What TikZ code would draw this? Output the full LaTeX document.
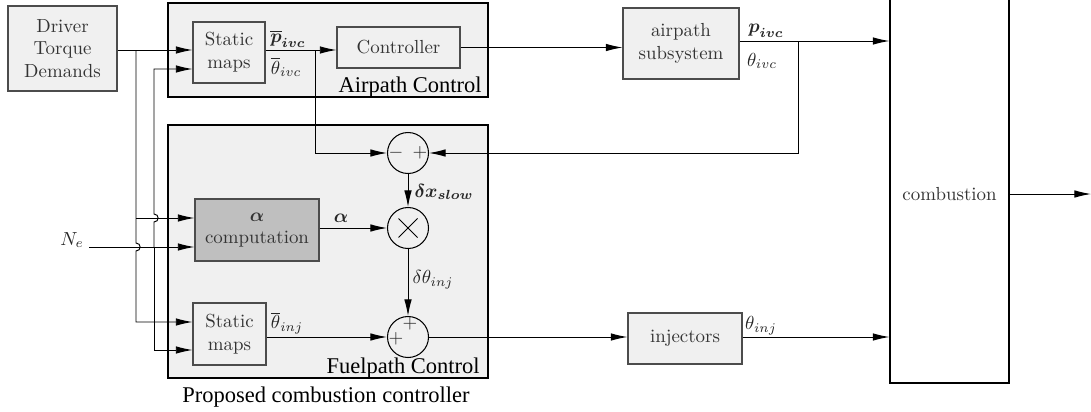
\documentclass[tikz,border=0pt]{standalone}
\usepackage{amsmath}
\usepackage{fontspec}
\newfontfamily\tnr{Liberation Serif}
\usetikzlibrary{arrows.meta,calc}
\begin{document}
\begin{tikzpicture}[x=0.529pt,y=-0.529pt,
  box/.style={draw=black!70, fill=gray!12, line width=0.6pt, align=center, text=black!80, inner sep=0pt},
  wh/.style 2 args={minimum width={#1*0.529pt}, minimum height={#2*0.529pt}},
  grp/.style={draw=black, fill=gray!12, line width=1.1pt, inner sep=0pt},
  conn/.style={line width=0.5pt},
  arr/.style={conn, -{Latex[length=8.8pt,width=4pt]}},
  opc/.style={circle, draw, line width=0.55pt, minimum size={41*0.529pt}, inner sep=0pt},
  lbl/.style={inner sep=0pt, text=black!85},
  grplbl/.style={inner sep=0pt, font=\tnr\fontsize{11.9}{14}\selectfont}
]
\path[use as bounding box, clip] (0,0) rectangle (1091,411);

% groups
\node[grp, wh={320}{94}] (airgrp) at (328,50) {};
\node[grp, wh={320}{253}] (fuelgrp) at (328,251.5) {};
\node[grplbl, anchor=base east] (aplbl) at (482,92) {Airpath Control};
\node[grplbl, anchor=base east] (fplbl) at (480,373) {Fuelpath Control};
\node[grplbl, anchor=base] (pcc) at (326,402) {Proposed combustion controller};

% boxes
\node[box, wh={109}{85}] (drv) at (62.5,48.5) {Driver\\Torque\\Demands};
\node[box, wh={72}{61}] (sm1) at (229,52.5) {Static\\maps};
\node[box, wh={123}{41}] (ctrl) at (398.5,47.5) {Controller};
\node[box, wh={116}{71}] (ap) at (681,43.5) {airpath\\subsystem};
\node[box, fill=gray!50, wh={124}{62}] (alpha) at (257,230) {$\boldsymbol{\alpha}$\\computation};
\node[box, wh={73}{62}] (sm2) at (229.5,334) {Static\\maps};
\node[box, wh={114}{51}] (inj) at (685,338.5) {injectors};
\node[draw=black, line width=0.6pt, wh={119}{430}, inner sep=0pt] (comb) at (949.5,168) {};
\node[lbl, text=black!80] (combtxt) at (949.5,194) {combustion};

% operators
\node[opc] (mp) at (408,153) {};
\node[opc] (mul) at (408,228) {};
\node[opc] (sum) at (408,337) {};
\node[lbl] (mpminus) at (396,153) {$-$};
\node[lbl] (mpplus) at (420,153) {$+$};
\draw[conn] ($(mul)+(-9.5,-9.5)$) -- ($(mul)+(9.5,9.5)$);
\draw[conn] ($(mul)+(-9.5,9.5)$) -- ($(mul)+(9.5,-9.5)$);
\node[lbl] (sumtop) at (410,324) {$+$};
\node[lbl] (sumleft) at (396,339) {$+$};

% inputs
\coordinate (jd) at (136,50);
\coordinate (jd2) at (136,218);
\coordinate (jn) at (154,247);
\coordinate (ne) at (89,247);
\node[lbl] (Ne) at (72,240) {$N_e$};

\draw[arr] (drv.east |- jd) -- (sm1.west |- jd);
\draw[arr] (jd) -- (136,243) .. controls (141.5,243) and (141.5,251) .. (136,251) |- (sm2.west |- 0,322);
\draw[arr] (jd2) -- (alpha.west |- jd2);
\draw[arr] (ne) -- (alpha.west |- ne);
\draw[arr] (jn) -- (154,222) .. controls (159.5,222) and (159.5,214) .. (154,214) |- (sm1.west |- 0,69);
\draw[arr] (jn) |- (sm2.west |- 0,350);

% airpath
\coordinate (jp) at (315,50);
\coordinate (jq) at (798,41);
\draw[arr] (sm1.east |- jp) -- (ctrl.west |- jp);
\draw[arr] (jp) |- (mp.west);
\draw[arr] (ctrl.east) -- (ctrl.east -| ap.west);
\draw[arr] (ap.east |- jq) -- (comb.west |- jq);
\draw[arr] (jq) |- (mp.east);

% fuelpath
\draw[arr] (mp.south) -- (mul.north);
\draw[arr] (alpha.east |- mul.west) -- (mul.west);
\draw[arr] (mul.south) -- (sum.north);
\draw[arr] (sm2.east |- sum.west) -- (sum.west);
\draw[arr] (sum.east) -- (sum.east -| inj.west);
\draw[arr] (inj.east |- sum.east) -- (comb.west |- sum.east);
\coordinate (out) at (1091,194);
\draw[arr] (comb.east |- combtxt) -- (out);

% labels
\node[lbl] (lpbar) at (288,39) {$\overline{\boldsymbol{p}}_{\boldsymbol{ivc}}$};
\node[lbl] (ltbar) at (286,67) {$\overline{\theta}_{ivc}$};
\node[lbl] (lp) at (766,31) {$\boldsymbol{p}_{\boldsymbol{ivc}}$};
\node[lbl] (lt) at (762,61) {$\theta_{ivc}$};
\node[lbl] (ldx) at (444,192) {$\boldsymbol{\delta x_{slow}}$};
\node[lbl] (la) at (341,218) {$\boldsymbol{\alpha}$};
\node[lbl] (ldt) at (433,280) {$\delta\theta_{inj}$};
\node[lbl] (ltinj) at (287,323) {$\overline{\theta}_{inj}$};
\node[lbl] (ltinj2) at (761,326) {$\theta_{inj}$};
\end{tikzpicture}
\end{document}
